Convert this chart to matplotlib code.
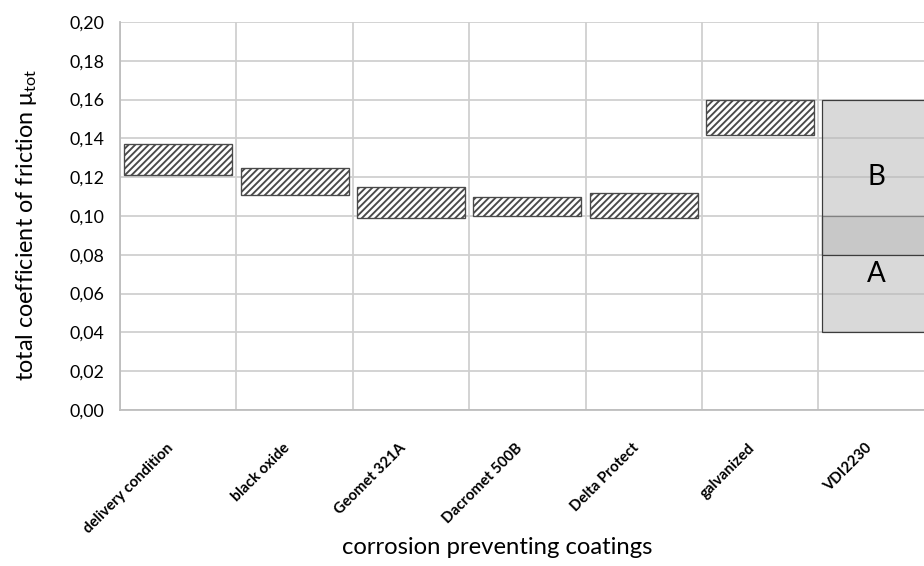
import numpy as np
import matplotlib
matplotlib.use("Agg")
import matplotlib.pyplot as plt
import matplotlib.transforms as mtransforms

plt.rcParams['font.family'] = ['Lato', 'DejaVu Sans']
plt.rcParams['mathtext.fontset'] = 'custom'
plt.rcParams['mathtext.rm'] = 'Lato'
plt.rcParams['hatch.linewidth'] = 1.7
plt.rcParams['hatch.color'] = '#333333'

# friction ranges (min, max) per coating
coatings = ["delivery condition", "black oxide", "Geomet 321A", "Dacromet 500B",
            "Delta Protect", "galvanized", "VDI2230"]
mu_min = [0.121, 0.111, 0.099, 0.100, 0.099, 0.142]
mu_max = [0.137, 0.125, 0.115, 0.110, 0.112, 0.160]

# VDI 2230 friction classes
vdi_a = (0.04, 0.10)
vdi_b = (0.08, 0.16)

yticks = np.arange(0, 0.201, 0.02)

fig = plt.figure(figsize=(11.55, 7.075), dpi=80)
ax = fig.add_axes([0.13, 0.2756, 0.8815, 0.6855])

x = np.arange(len(coatings))
w = 0.93

# hatched ranges for the measured coatings
lo = np.array(mu_min)
hi = np.array(mu_max)
ax.bar(x[:len(mu_min)], hi - lo, bottom=lo, width=w, facecolor='white',
       edgecolor='#4a4a4a', linewidth=1.2, hatch='////', zorder=3)

# VDI classes A and B, the overlap shows darker
box_face = (0.73, 0.73, 0.73, 0.55)
vx = x[-1]
for rng, name in ((vdi_a, "A"), (vdi_b, "B")):
    ax.bar(vx, rng[1] - rng[0], bottom=rng[0], width=w, facecolor=box_face,
           edgecolor='#3c3c3c', linewidth=1.1, zorder=3)
    ax.text(vx, sum(rng) / 2, name, ha='center', va='center',
            fontsize=25, zorder=4)

ax.set_xlim(-0.5, len(coatings) - 0.5)
ax.set_ylim(0, 0.2)
ax.set_yticks(yticks)
ax.set_yticklabels([f"{v:.2f}".replace('.', ',') for v in yticks], fontsize=16)
ax.set_xticks(np.arange(-0.5, len(coatings) - 0.4, 1.0))
ax.set_xticklabels([])
ax.tick_params(length=0, pad=14)
ax.grid(True, color='#cfcfcf', linewidth=1.6, zorder=0)
ax.set_axisbelow(True)
for s in ['top', 'right']:
    ax.spines[s].set_visible(False)
for s in ['left', 'bottom']:
    ax.spines[s].set_color('#bdbdbd')
    ax.spines[s].set_linewidth(1.6)

# rotated category labels under each column
off = mtransforms.ScaledTranslation(-7 / 80, -36 / 80, fig.dpi_scale_trans)
for xi, name in zip(x, coatings):
    ax.text(xi, 0, name, rotation=45, rotation_mode='anchor', ha='right',
            va='center', fontsize=13.5, fontweight='bold',
            transform=ax.get_xaxis_transform() + off)

ax.set_ylabel(r"total coefficient of friction μ$_{\mathrm{tot}}$", fontsize=21)
ax.yaxis.set_label_coords(-0.0995, 0.477)
fig.text(497 / 924, 1 - 548 / 566, "corrosion preventing coatings", ha='center',
         va='center', fontsize=21.5)

fig.savefig("out.png", dpi=80)
